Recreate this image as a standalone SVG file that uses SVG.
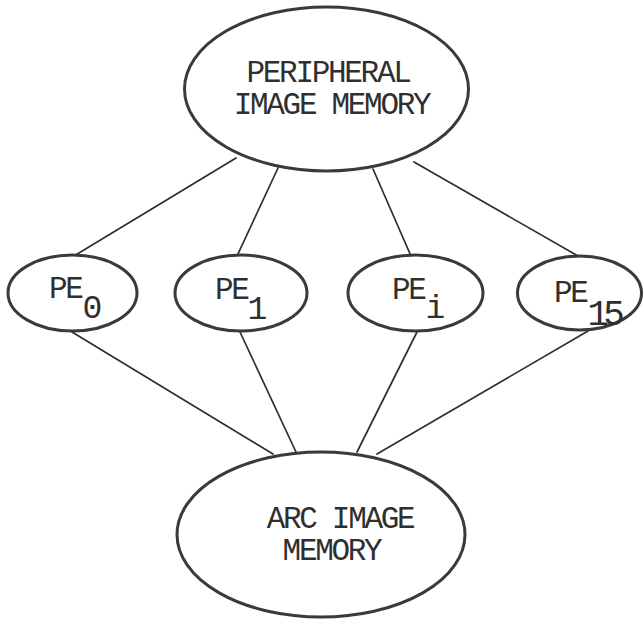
<svg xmlns="http://www.w3.org/2000/svg" width="643" height="622" viewBox="0 0 643 622">
<style>
.node{fill:#fff;stroke:#3a3a3a;stroke-width:3}
.conn{stroke:#2e2e2e;stroke-width:1.7;fill:none;stroke-linecap:round}
.t{font-family:"Liberation Mono","Courier New",monospace;font-size:31px;letter-spacing:-2.3px;fill:#2f2f2f}
.m{text-anchor:middle}
.s{font-size:33px;letter-spacing:0}
</style>
<rect width="643" height="622" fill="#fff"/>
<g id="connectors">
<line class="conn" x1="236" y1="158" x2="74" y2="256"/>
<line class="conn" x1="278" y1="168" x2="237" y2="256"/>
<line class="conn" x1="373" y1="169" x2="411" y2="256"/>
<line class="conn" x1="414" y1="162" x2="578" y2="256"/>
<line class="conn" x1="72" y1="332" x2="273" y2="454"/>
<line class="conn" x1="240" y1="332" x2="296" y2="452"/>
<line class="conn" x1="417" y1="332" x2="357" y2="452"/>
<line class="conn" x1="588" y1="331" x2="377" y2="454"/>
</g>
<g id="peripheral">
<ellipse class="node" cx="326.5" cy="89" rx="142" ry="82"/>
<text class="t m"><tspan x="328" y="82">PERIPHERAL</tspan><tspan x="331.5" y="114">IMAGE MEMORY</tspan></text>
</g>
<g id="pe0">
<ellipse class="node" cx="72.5" cy="293" rx="64.5" ry="38"/>
<text class="t" x="49" y="298">PE<tspan class="s" dx="1" dy="20">0</tspan></text>
</g>
<g id="pe1">
<ellipse class="node" cx="241" cy="293" rx="66" ry="38"/>
<text class="t" x="215" y="299">PE<tspan class="s" dy="20">1</tspan></text>
</g>
<g id="pei">
<ellipse class="node" cx="415.5" cy="293" rx="67.5" ry="38"/>
<text class="t" x="392" y="299">PE<tspan class="s" dx="1" dy="19">i</tspan></text>
</g>
<g id="pe15">
<ellipse class="node" cx="579.5" cy="293" rx="62" ry="37"/>
<text class="t" x="554" y="302">PE<tspan class="s" style="font-size:36px;letter-spacing:-6px" dx="1" dy="23">15</tspan></text>
</g>
<g id="arc">
<ellipse class="node" cx="321" cy="534.5" rx="144" ry="82.5"/>
<text class="t m"><tspan x="340" y="528">ARC IMAGE</tspan><tspan x="331.5" y="560">MEMORY</tspan></text>
</g>
</svg>
